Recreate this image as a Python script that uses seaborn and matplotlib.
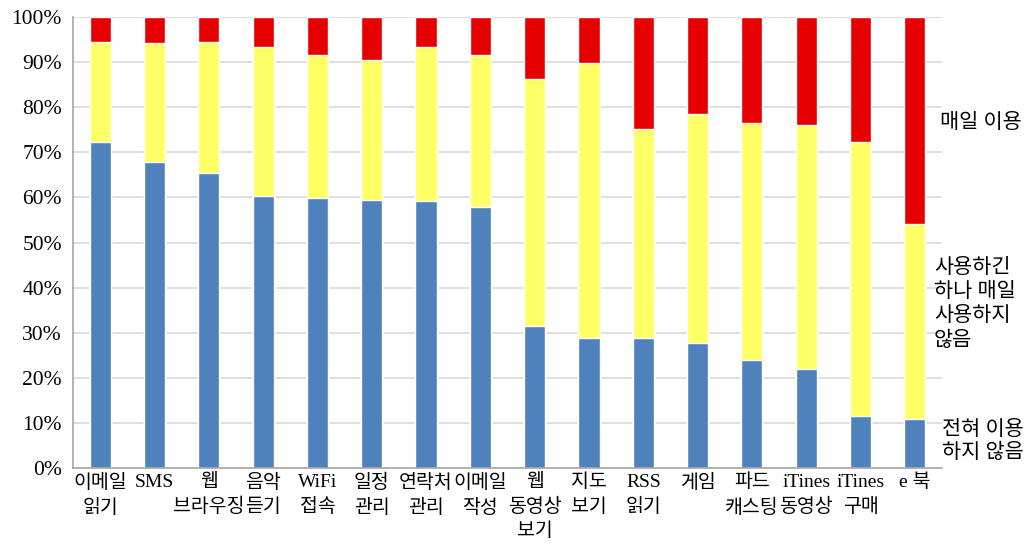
import pandas as pd
import matplotlib.pyplot as plt
import seaborn as sns
from matplotlib.ticker import PercentFormatter, FixedLocator

sns.set_style("white")
plt.rcParams['font.family'] = ['Liberation Serif', 'Noto Sans CJK KR', 'DejaVu Sans']
plt.rcParams['text.color'] = 'black'
plt.rcParams['xtick.labelcolor'] = 'black'
plt.rcParams['ytick.labelcolor'] = 'black'

# categories (x labels)
categories = ['이메일\n읽기', 'SMS', '웹\n브라우징', '음악\n듣기', 'WiFi\n접속', '일정\n관리',
              '연락처\n관리', '이메일\n작성', '웹\n동영상\n보기', '지도\n보기', 'RSS\n읽기', '게임',
              '파드\n캐스팅', 'iTines\n동영상', 'iTines\n구매', 'e 북']

# percent values
never = [72.3, 67.8, 65.3, 60.3, 59.9, 59.4, 59.1, 57.8,
         31.4, 28.8, 28.8, 27.7, 23.9, 22.0, 11.5, 10.9]
not_daily = [22.2, 26.4, 29.2, 33.0, 31.6, 31.0, 34.2, 33.8,
             54.9, 61.0, 46.3, 50.8, 52.7, 54.0, 60.7, 43.1]
daily = [5.5, 5.8, 5.5, 6.7, 8.5, 9.6, 6.7, 8.4,
         13.7, 10.2, 24.9, 21.5, 23.4, 24.0, 27.8, 46.0]

colors = {'never': '#4F81BD', 'not_daily': '#FFFF66', 'daily': '#E60000'}

df = pd.DataFrame({'cat': categories, 'never': never,
                   'not_daily': not_daily, 'daily': daily})
df['lvl2'] = df['never'] + df['not_daily']
df['lvl3'] = df['lvl2'] + df['daily']

fig = plt.figure(figsize=(10.32, 5.44), dpi=100)
ax = fig.add_axes([73 / 1032, 1 - 468 / 544, 869 / 1032, 451 / 544])

# stacked bars: draw cumulative totals back to front
sns.barplot(data=df, x='cat', y='lvl3', color=colors['daily'], width=0.39,
            saturation=1, ax=ax, zorder=2)
sns.barplot(data=df, x='cat', y='lvl2', color=colors['not_daily'], width=0.39,
            saturation=1, ax=ax, zorder=2)
sns.barplot(data=df, x='cat', y='never', color=colors['never'], width=0.39,
            saturation=1, ax=ax, zorder=2)

ax.set_xlim(-0.5, len(categories) - 0.5)
ax.set_ylim(0, 100)
ax.set_yticks(range(0, 101, 10))
ax.yaxis.set_major_formatter(PercentFormatter(decimals=0))
ax.grid(axis='y', color='#D9D9D9', linewidth=1.2, zorder=0)
ax.set_axisbelow(True)
ax.set_xlabel('')
ax.set_ylabel('')

# category labels at centers, tick marks at category boundaries
ax.set_xticks(range(len(categories)))
ax.set_xticklabels(categories, fontsize=14, linespacing=1.5, va='top')
ax.tick_params(axis='x', which='major', length=0, pad=4)
ax.xaxis.set_minor_locator(FixedLocator([i - 0.5 for i in range(len(categories) + 1)]))
ax.tick_params(axis='x', which='minor', length=6, color='#A6A6A6', width=1.2)
ax.tick_params(axis='y', length=5, color='#A6A6A6', width=1.2, labelsize=15.5, pad=3)

for side in ['top', 'right']:
    ax.spines[side].set_visible(False)
for side in ['left', 'bottom']:
    ax.spines[side].set_color('#A6A6A6')
    ax.spines[side].set_linewidth(1.2)

# series labels on the right
fig.text(940 / 1032, 1 - 123 / 544, '매일 이용', fontsize=15, va='center', ha='left')
fig.text(934 / 1032, 1 - 305 / 544, '사용하긴\n하나 매일\n사용하지\n않음', fontsize=15,
         va='center', ha='left', linespacing=1.36)
fig.text(942 / 1032, 1 - 442 / 544, '전혀 이용\n하지 않음', fontsize=15,
         va='center', ha='left', linespacing=1.28)

fig.savefig('out.png', dpi=100)
